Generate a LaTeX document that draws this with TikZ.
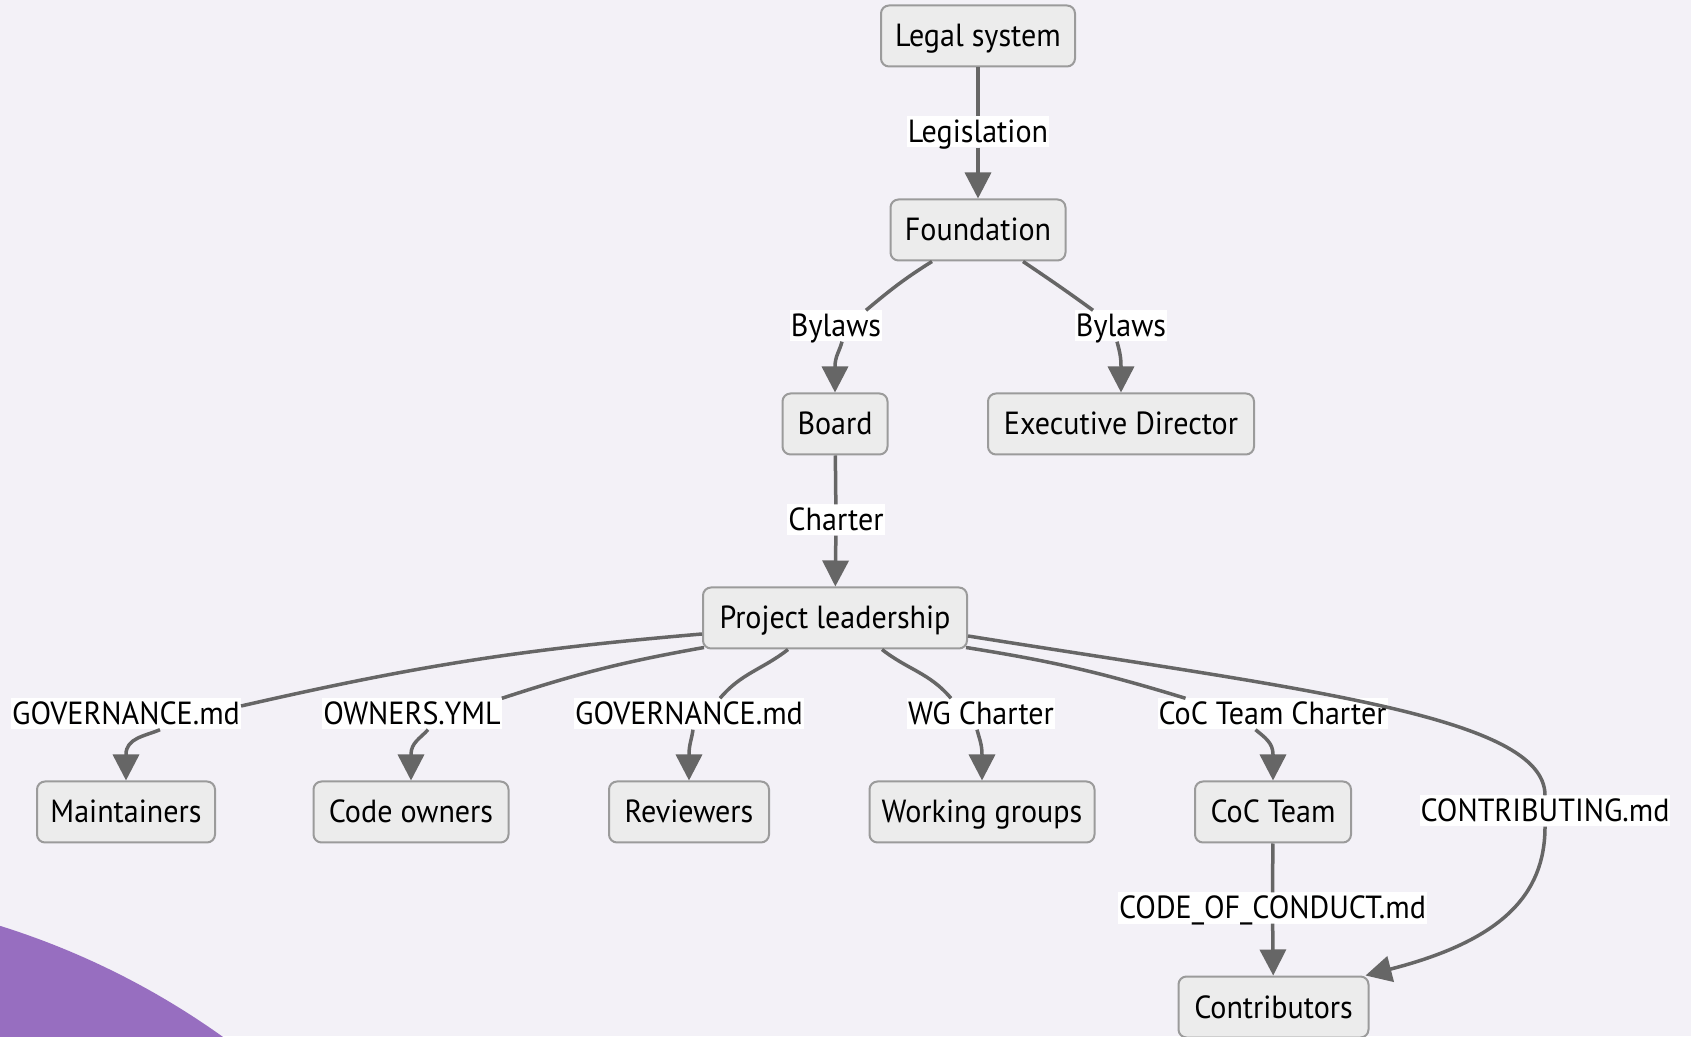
\documentclass[tikz,border=0pt]{standalone}
\usepackage{fontspec}
\setmainfont{PT Sans}[FakeStretch=0.94]
\usetikzlibrary{arrows.meta}

\definecolor{canvas}{RGB}{243,241,247}
\definecolor{boxfill}{RGB}{236,236,236}
\definecolor{boxline}{RGB}{155,155,155}
\definecolor{linkgray}{RGB}{102,102,102}
\definecolor{blob}{RGB}{151,110,192}

\newcommand\diagfont{\fontsize{32}{38}\selectfont}

\tikzset{
  box/.style={draw=boxline, fill=boxfill, line width=2pt, rounded corners=8pt,
              minimum height=61pt, inner xsep=4pt, inner ysep=0pt,
              text height=28pt, text depth=6pt, font=\diagfont},
  tag/.style={fill=white, inner xsep=1pt, inner ysep=0pt,
              text height=26pt, text depth=5pt, font=\diagfont},
  link/.style={draw=linkgray, line width=3.5pt, -{Triangle[length=26pt,width=26pt]}}
}

\begin{document}
\begin{tikzpicture}[x=1pt,y=1pt]
\useasboundingbox (0,0) rectangle (1691,1036);
\clip (0,0) rectangle (1691,1036);
\fill[canvas] (0,0) rectangle (1691,1036);
\fill[blob] (-236,-644) circle[radius=790];

% boxes
\node[box, minimum width=194pt] (legal)   at (978,1000) {Legal system};
\node[box, minimum width=175pt] (found)   at (978,806)  {Foundation};
\node[box, minimum width=105pt] (board)   at (835,612)  {Board};
\node[box, minimum width=266pt] (exec)    at (1121,612) {Executive Director};
\node[box, minimum width=264pt] (pl)      at (835,418)  {Project leadership};
\node[box, minimum width=178pt] (maint)   at (126,224)  {Maintainers};
\node[box, minimum width=195pt] (code)    at (411,224)  {Code owners};
\node[box, minimum width=160pt] (rev)     at (689,224)  {Reviewers};
\node[box, minimum width=225pt] (wg)      at (982,224)  {Working groups};
\node[box, minimum width=156pt] (coc)     at (1273,224) {CoC Team};
\node[box, minimum width=190pt] (contrib) at (1273.5,29){Contributors};

% connector labels
\node[tag] (lLeg)   at (978,904)    {Legislation};
\node[tag] (lByL)   at (836,710)    {Bylaws};
\node[tag] (lByR)   at (1121,710)   {Bylaws};
\node[tag] (lCh)    at (836,516)    {Charter};
\node[tag] (lGov1)  at (126,322)    {GOVERNANCE.md};
\node[tag] (lOwn)   at (412,322)    {OWNERS.YML};
\node[tag] (lGov2)  at (689,322)    {GOVERNANCE.md};
\node[tag] (lWG)    at (981,322)    {WG Charter};
\node[tag] (lCoCC)  at (1272.5,322) {CoC Team Charter};
\node[tag] (lContr) at (1545,225)   {CONTRIBUTING.md};
\node[tag] (lCode)  at (1272.5,128) {CODE\_OF\_CONDUCT.md};

% connectors
\draw[link] (legal) -- (lLeg) -- (found);
\draw[link] ([xshift=-46pt]found.south) to[out=212,in=40] ([xshift=30pt]lByL.north)
            ([xshift=6pt]lByL.south) to[out=255,in=90] ([yshift=26pt]board.north) -- (board.north);
\draw[link] ([xshift=45pt]found.south) to[out=326,in=144] ([xshift=-28pt]lByR.north)
            ([xshift=-4pt]lByR.south) to[out=285,in=90] ([yshift=26pt]exec.north) -- (exec.north);
\draw[link] (board) -- (lCh) -- (pl);

\draw[link] ([yshift=-16pt]pl.west) to[bend right=4] ([yshift=8pt]lGov1.east)
            ([xshift=34pt]lGov1.south) to[out=203,in=90] ([yshift=26pt]maint.north) -- (maint.north);
\draw[link] ([xshift=2pt,yshift=2pt]pl.south west) to[bend right=4] (lOwn.north east)
            ([xshift=16pt]lOwn.south) to[out=228,in=90] ([yshift=26pt]code.north) -- (code.north);
\draw[link] ([xshift=-47pt]pl.south) to[out=218,in=50] ([xshift=31pt]lGov2.north)
            ([xshift=4pt]lGov2.south) to[out=262,in=90] ([yshift=26pt]rev.north) -- (rev.north);
\draw[link] ([xshift=47pt]pl.south) to[out=322,in=130] ([xshift=-30pt]lWG.north)
            ([xshift=-4pt]lWG.south) to[out=285,in=90] ([yshift=26pt]wg.north) -- (wg.north);
\draw[link] ([xshift=-2pt,yshift=2pt]pl.south east) to[bend left=4] ([xshift=-87pt]lCoCC.north)
            ([xshift=-17pt]lCoCC.south) to[out=320,in=90] ([yshift=26pt]coc.north) -- (coc.north);
\draw[link] ([yshift=-18pt]pl.east) .. controls (1300,347) and (1545,320) .. (lContr.north)
            (lContr.south) .. controls (1545,140) and (1500,95) .. ([xshift=-4pt]contrib.north east);
\draw[link] (coc) -- (lCode) -- (contrib);
\end{tikzpicture}
\end{document}
